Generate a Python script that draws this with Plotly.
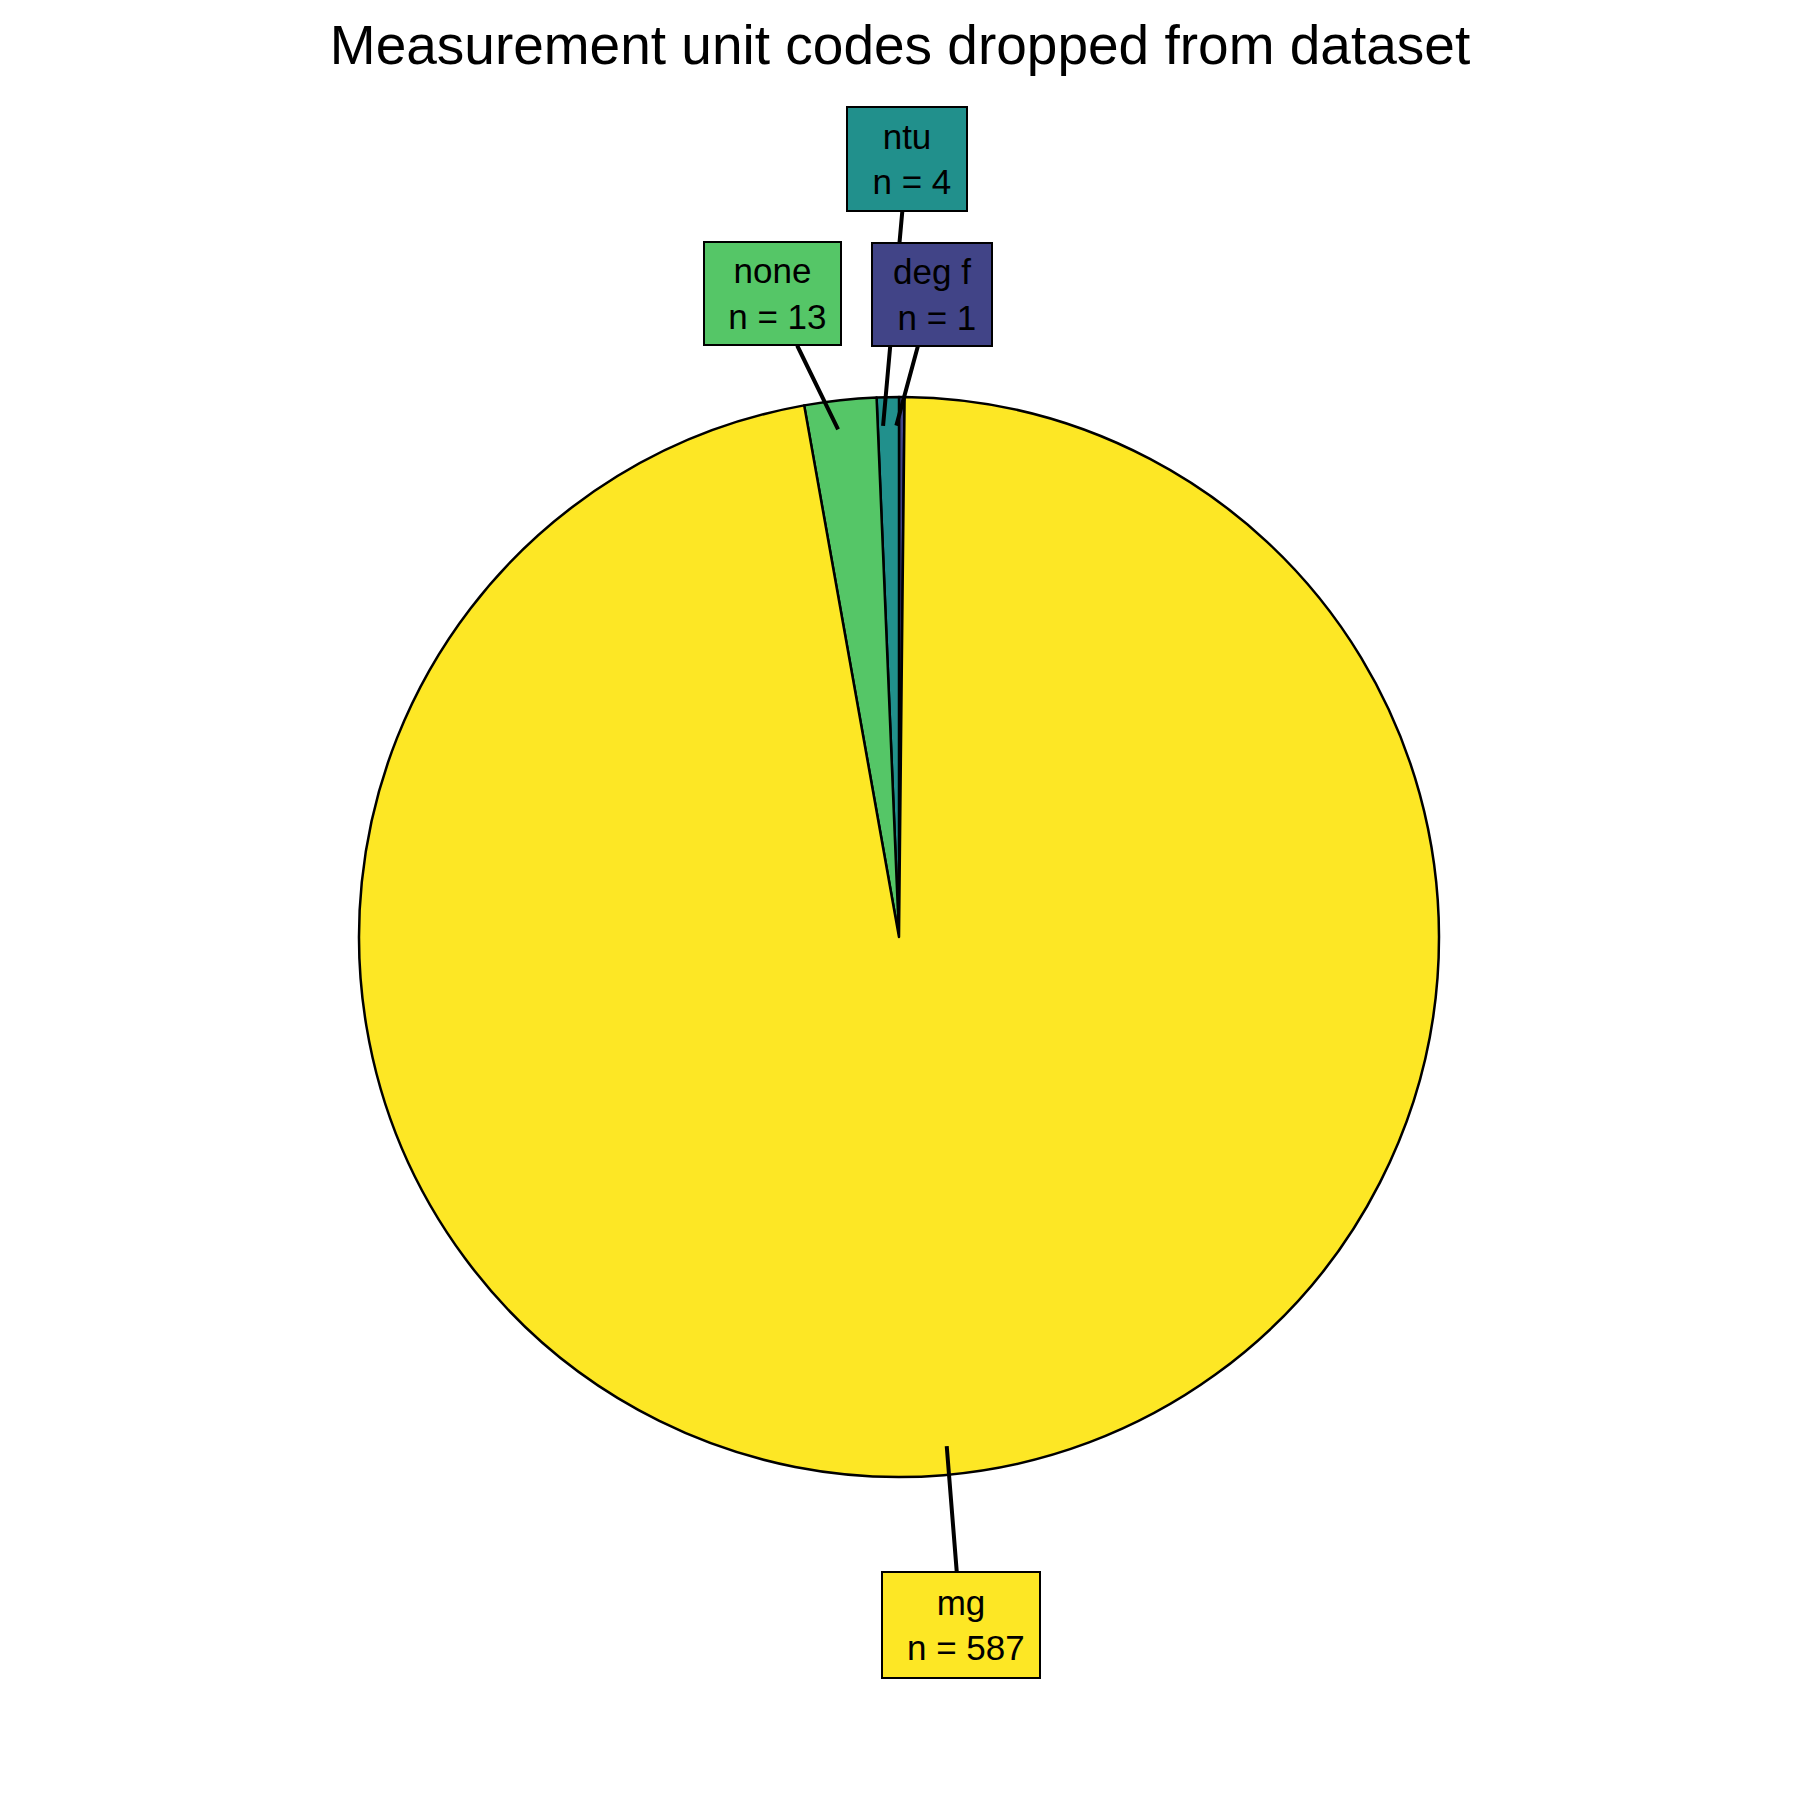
import math
import plotly.graph_objects as go

# dropped unit codes and their counts
units = ["deg f", "ntu", "none", "mg"]
counts = [1, 4, 13, 587]
colors = ["#414487", "#21908C", "#55C667", "#FDE725"]

W = H = 1800
cx, cy, r = 891, 929, 540          # pie centre / radius in pixels
tip = 0.947                         # where the leader lines end, as fraction of r

# label box centres (pixels) and sizes, picked to match the repelled layout
box_pos = {"deg f": (924, 286), "ntu": (899, 151), "none": (764, 286), "mg": (953, 1617)}
box_size = {"deg f": (116, 99), "ntu": (116, 100), "none": (133, 99), "mg": (154, 102)}
draw_order = ["mg", "none", "ntu", "deg f"]

fig = go.Figure()
fig.add_trace(go.Pie(
    labels=units, values=counts, sort=False, direction="counterclockwise",
    rotation=0, textinfo="none", hoverinfo="label+value", showlegend=False,
    marker=dict(colors=colors, line=dict(color="black", width=2.5)),
    domain=dict(x=[(cx - r) / W, (cx + r) / W], y=[(H - cy - r) / H, (H - cy + r) / H]),
))

total = sum(counts)
mids = {}
cum = 0
for u, n in zip(units, counts):
    mids[u] = (cum + n / 2) / total * 2 * math.pi
    cum += n

for u in draw_order:
    i = units.index(u)
    n, c = counts[i], colors[i]
    px = cx - tip * r * math.sin(mids[u])
    py = cy - tip * r * math.cos(mids[u])
    bx, by = box_pos[u]
    bw, bh = box_size[u]
    fig.add_annotation(
        x=px / W, y=1 - py / H, xref="paper", yref="paper",
        ax=bx - px, ay=by - py, axref="pixel", ayref="pixel",
        text=f"{u}<br> n = {n}", showarrow=True, arrowhead=0, arrowwidth=4,
        arrowcolor="black", standoff=0, startstandoff=0,
        font=dict(family="Liberation Sans, Arial", size=35, color="black"),
        bgcolor=c, bordercolor="black", borderwidth=2, width=bw, height=bh,
        align="center", valign="middle",
    )

fig.update_layout(
    width=W, height=H, margin=dict(l=0, r=0, t=0, b=0),
    paper_bgcolor="white", plot_bgcolor="white",
    title=dict(text="Measurement unit codes dropped from dataset", x=892 / W, xanchor="center",
               y=1 - 37 / H, yanchor="middle",
               font=dict(family="Liberation Sans, Arial", size=55, color="black")),
)

fig.write_html("out.html")
